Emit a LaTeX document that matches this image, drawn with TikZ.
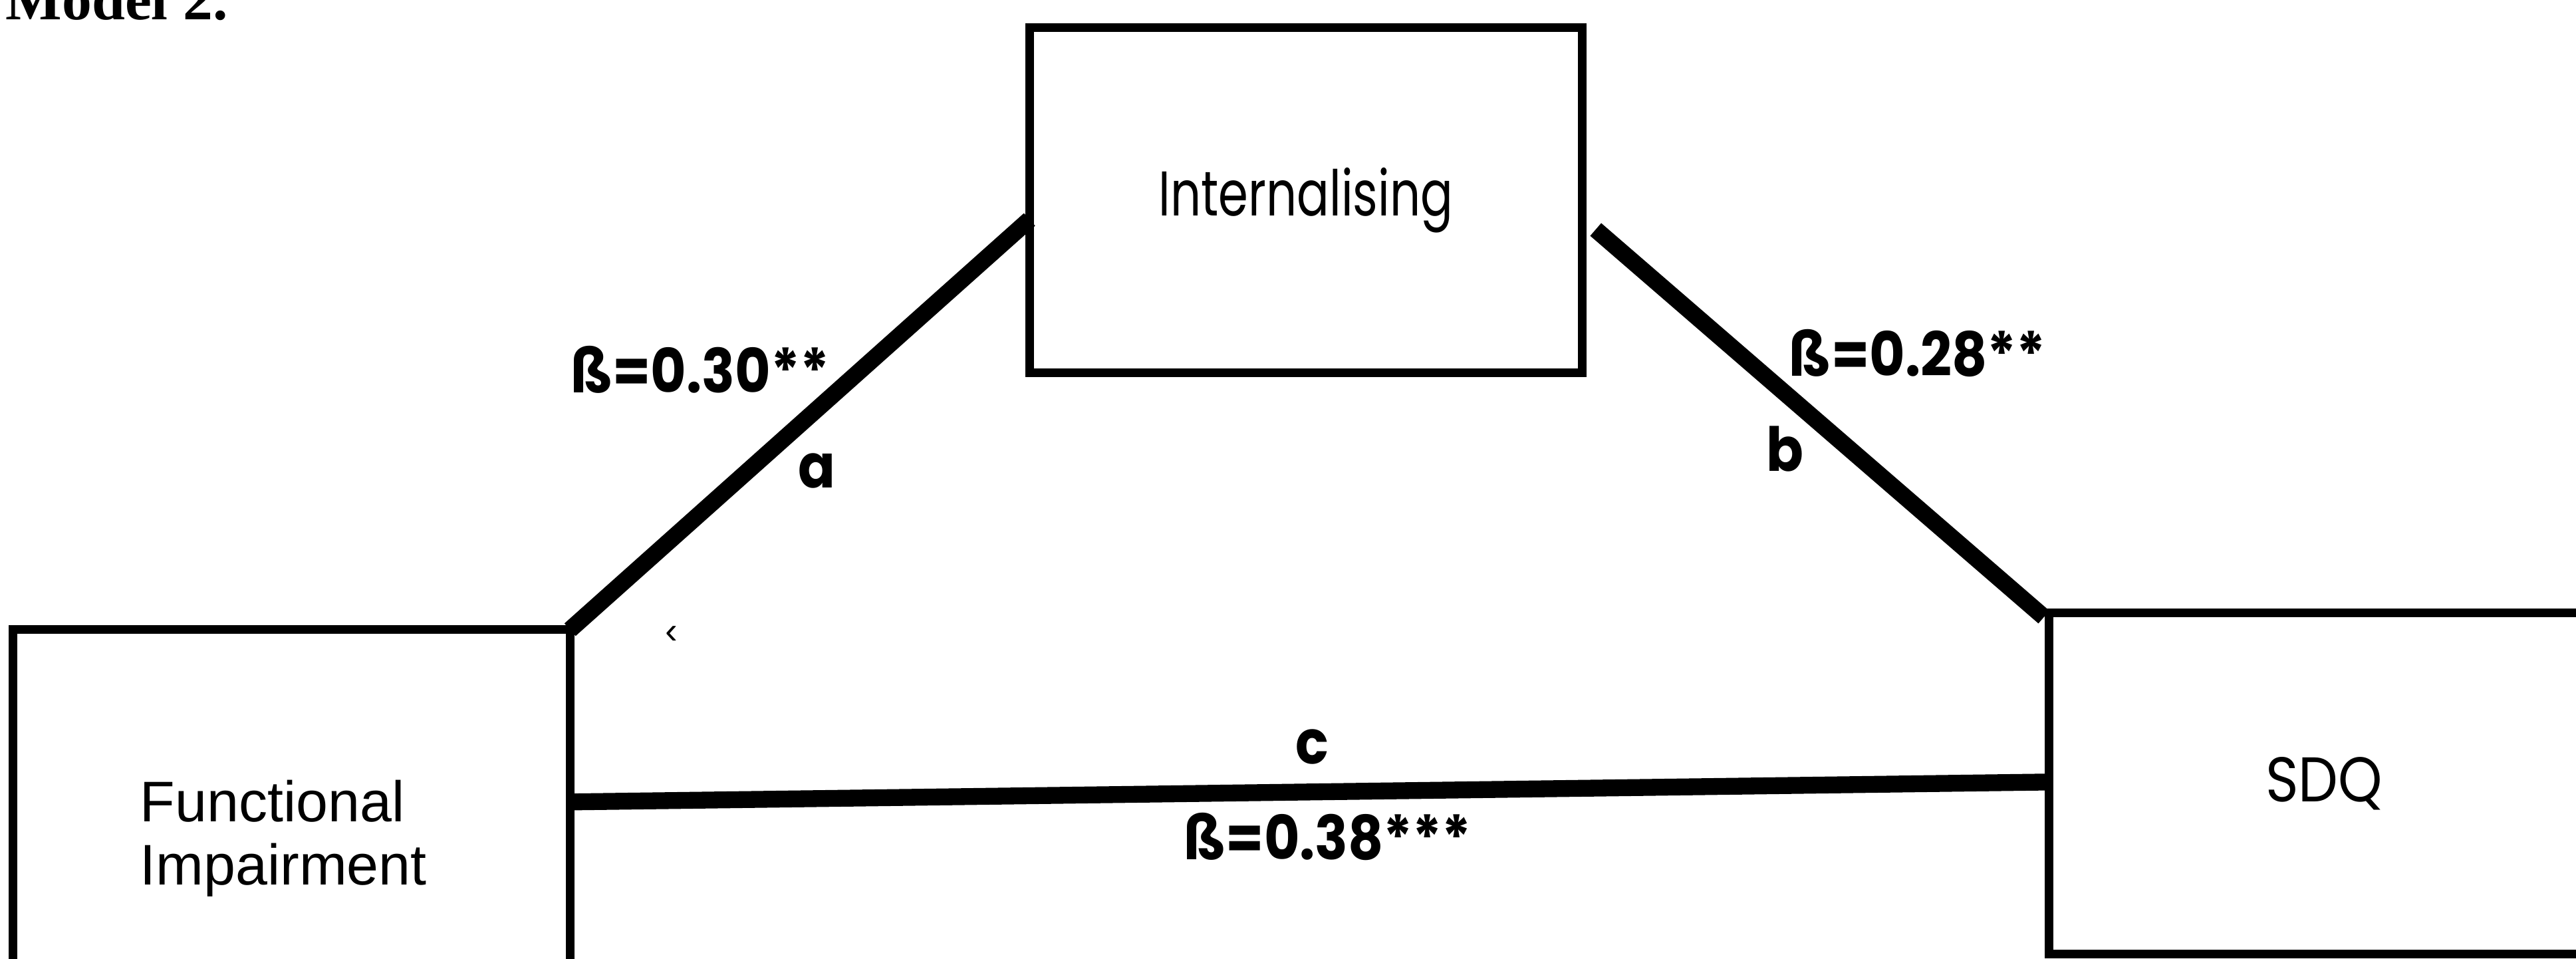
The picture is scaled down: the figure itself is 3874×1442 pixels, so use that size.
\documentclass[tikz,border=0pt]{standalone}
\usepackage{fontspec}
\usepackage{graphicx}
\setmainfont{Liberation Serif}
\newfontfamily\futura{Poppins}
\newfontfamily\arialf{Liberation Sans}
\usetikzlibrary{calc}
\newcommand{\condx}[1]{\scalebox{0.9}[1]{#1}}
\begin{document}
\begin{tikzpicture}[x=0.01cm,y=-0.01cm,
  box/.style={draw=black, line width=3.7pt, rectangle, inner sep=0pt, outer sep=0pt},
  conn/.style={draw=black, line width=7.2pt},
  coef/.style={font=\futura\bfseries\fontsize{26}{30}\selectfont, inner sep=0pt},
  plabel/.style={font=\futura\bfseries\fontsize{26}{30}\selectfont, inner sep=0pt},
  boxtext/.style={font=\futura\fontsize{27}{30}\selectfont}
  ]
\clip (0,0) rectangle (3874,1442);
\fill[white] (0,0) rectangle (3874,1442);

% title (top cut off)
\node[anchor=base west, inner sep=0pt, font=\bfseries\fontsize{25.5}{30}\selectfont] (title) at (8,29) {Model 2.};

% boxes
\node[box, boxtext, minimum width=8.31cm, minimum height=5.18cm] (int) at (1964,301) {\scalebox{0.76}[1]{Internalising}};
\node[box, minimum width=8.37cm, minimum height=6.28cm] (fi) at (438.5,1261) {};
\node[anchor=north west, inner sep=0pt, align=left, font=\arialf\fontsize{24.5}{27}\selectfont] (fitxt) at (210,1172) {Functional\\Impairment};
\node[box, boxtext, minimum width=8.26cm, minimum height=5.12cm] (sdq) at (3495,1178) {\scalebox{0.89}[1]{SDQ}};

% connector end points
\coordinate (aend) at ($(int.north west)!0.556!(int.south west)$);
\coordinate (bstart) at ($(int.north east)!0.585!(int.south east)+(20,0)$);
\coordinate (bend) at ($(sdq.north west)+(-8,6)$);
\coordinate (cstart) at ($(fi.north east)+(0,259)$);
\coordinate (cend) at ($(sdq.north west)+(0,254)$);

% connectors
\draw[conn] (fi.north east) -- (aend);
\draw[conn] (bstart) -- (bend);
\draw[conn] (cstart) -- (cend);

% labels
\node[coef] (la) at (1053,556) {\condx{ß=0.30**}};
\node[plabel] (pa) at (1228,708) {\condx{a}};
\node[coef] (lb) at (2884,531) {\condx{ß=0.28**}};
\node[plabel] (pb) at (2684,675) {\condx{b}};
\node[plabel] (pc) at (1973,1123) {\condx{c}};
\node[coef] (lc) at (1997,1258) {\condx{ß=0.38***}};

% stray mark
\node[inner sep=0pt, font=\arialf\fontsize{16}{18}\selectfont] (mark) at (1010,955) {‹};
\end{tikzpicture}
\end{document}
